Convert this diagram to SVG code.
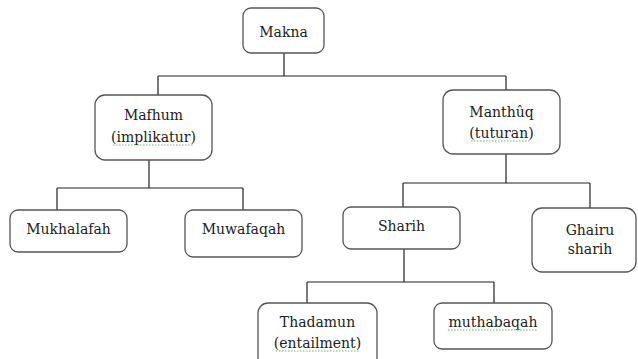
<svg xmlns="http://www.w3.org/2000/svg" width="638" height="359" viewBox="0 0 638 359">
<style>
.box{fill:#fff;stroke:#555;stroke-width:1.3}
text{font-family:'DejaVu Serif','Liberation Serif',serif;font-size:14px;fill:#222;text-anchor:middle}
.c{stroke:#222;stroke-width:1.2;fill:none}
.sp{stroke:#6cb86c;stroke-width:1;stroke-dasharray:1.5 1.5;fill:none}
</style>
<rect width="638" height="359" fill="#fff"/>
<g id="connectors">
<path class="c" d="M284 53V76M158 76H506M158 76V95M506 76V90"/>
<path class="c" d="M149 160V188M57 188H243M57 188V210M243 188V210"/>
<path class="c" d="M506 154V183M403 183H590M403 183V207M590 183V208"/>
<path class="c" d="M404 249V282M307 282H494M307 282V303M494 282V303"/>
</g>
<g id="makna"><rect class="box" x="243" y="8" width="81" height="45" rx="8"/><text x="283.5" y="37">Makna</text></g>
<g id="mafhum"><rect class="box" x="95" y="95" width="117" height="65" rx="10"/><text x="153.5" y="120">Mafhum</text><text x="153.5" y="142">(implikatur)</text><path class="sp" d="M113 145H194"/></g>
<g id="manthuq"><rect class="box" x="443" y="90" width="117" height="64" rx="10"/><text x="501.5" y="117">Manthûq</text><text x="501.5" y="138">(tuturan)</text><path class="sp" d="M471 141H531"/></g>
<g id="mukhalafah"><rect class="box" x="10" y="210" width="117" height="42" rx="8"/><text x="68.5" y="234">Mukhalafah</text></g>
<g id="muwafaqah"><rect class="box" x="185" y="210" width="117" height="47" rx="8"/><text x="243.5" y="234">Muwafaqah</text></g>
<g id="sharih"><rect class="box" x="343" y="207" width="117" height="42" rx="8"/><text x="401.5" y="231">Sharih</text></g>
<g id="ghairu-sharih"><rect class="box" x="532" y="208" width="104" height="64" rx="10"/><text x="590" y="235">Ghairu</text><text x="590" y="254">sharih</text></g>
<g id="thadamun"><rect class="box" x="258" y="303" width="119" height="65" rx="10"/><text x="317.5" y="327">Thadamun</text><text x="317.5" y="348">(entailment)</text><path class="sp" d="M276 351H360"/></g>
<g id="muthabaqah"><rect class="box" x="434" y="303" width="118" height="46" rx="8"/><text x="493" y="327">muthabaqah</text><path class="sp" d="M448 330H538"/></g>
</svg>
